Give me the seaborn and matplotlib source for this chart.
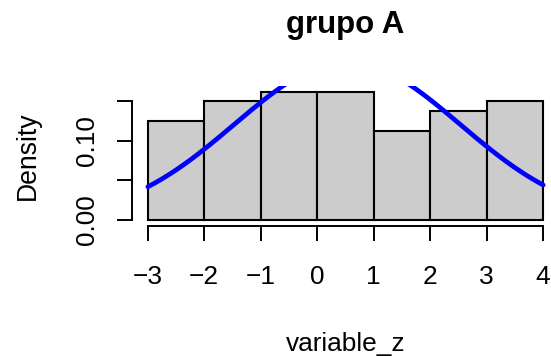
import numpy as np
import pandas as pd
import matplotlib
matplotlib.use("Agg")
import matplotlib.pyplot as plt
import seaborn as sns

# ---- data ----
bin_edges = [-3, -2, -1, 0, 1, 2, 3, 4]
bin_density = [0.125, 0.150, 0.1625, 0.1625, 0.1125, 0.1375, 0.150]
curve_mean = 0.53
curve_sd = 2.0
x_ticks = [-3, -2, -1, 0, 1, 2, 3, 4]
x_ticklabels = ["\u22123", "\u22122", "\u22121", "0", "1", "2", "3", "4"]
y_ticks = [0.00, 0.05, 0.10, 0.15]
y_ticklabels = ["0.00", "", "0.10", ""]
title = "grupo A"
xlabel = "variable_z"
ylabel = "Density"

sns.set_theme(style="white")
plt.rcParams["font.family"] = ["Liberation Sans", "DejaVu Sans"]

W, H = 551, 356
fig = plt.figure(figsize=(W / 100, H / 100), dpi=100)
# plot region in pixels: left 132, right 559, top 86, bottom 226
L, R, T, B = 132, 559, 86, 226
ax = fig.add_axes([L / W, (H - B) / H, (R - L) / W, (B - T) / H])

centers = [(a + b) / 2 for a, b in zip(bin_edges[:-1], bin_edges[1:])]
df = pd.DataFrame({"x": centers, "w": bin_density})
sns.histplot(data=df, x="x", weights="w", bins=bin_edges, stat="count",
             color="#CCCCCC", edgecolor="black", linewidth=1.5, alpha=1,
             ax=ax)

xs = np.linspace(bin_edges[0], bin_edges[-1], 301)
ys = np.exp(-0.5 * ((xs - curve_mean) / curve_sd) ** 2) / (curve_sd * np.sqrt(2 * np.pi))
sns.lineplot(x=xs, y=ys, color="#0000FF", linewidth=3.4, ax=ax, sort=False)

ax.set_xlim(-3.28, 4.28)
ax.set_ylim(-0.0076, 0.1696)

for s in ["top", "right"]:
    ax.spines[s].set_visible(False)
ax.spines["left"].set_bounds(0, 0.15)
ax.spines["bottom"].set_bounds(-3, 4)
for s in ["left", "bottom"]:
    ax.spines[s].set_color("black")
    ax.spines[s].set_linewidth(1.4)

ax.set_xticks(x_ticks)
ax.set_xticklabels(x_ticklabels)
ax.set_yticks(y_ticks)
ax.set_yticklabels(y_ticklabels, rotation=90, va="center")
ax.tick_params(axis="both", direction="out", length=10.8, width=1.4,
               color="black", labelsize=18.9, labelcolor="black",
               bottom=True, left=True)
ax.tick_params(axis="x", pad=17)
ax.tick_params(axis="y", pad=13)
ax.grid(False)

ax.set_xlabel(xlabel, fontsize=18.9, color="black")
ax.set_ylabel(ylabel, fontsize=19.2, color="black")
ax.xaxis.set_label_coords(0.5, -0.757)
ax.yaxis.set_label_coords(-0.2143, 0.5)
ax.set_title(title, fontsize=22.5, fontweight="bold", pad=38, color="black")

fig.savefig("out.png", dpi=100)
